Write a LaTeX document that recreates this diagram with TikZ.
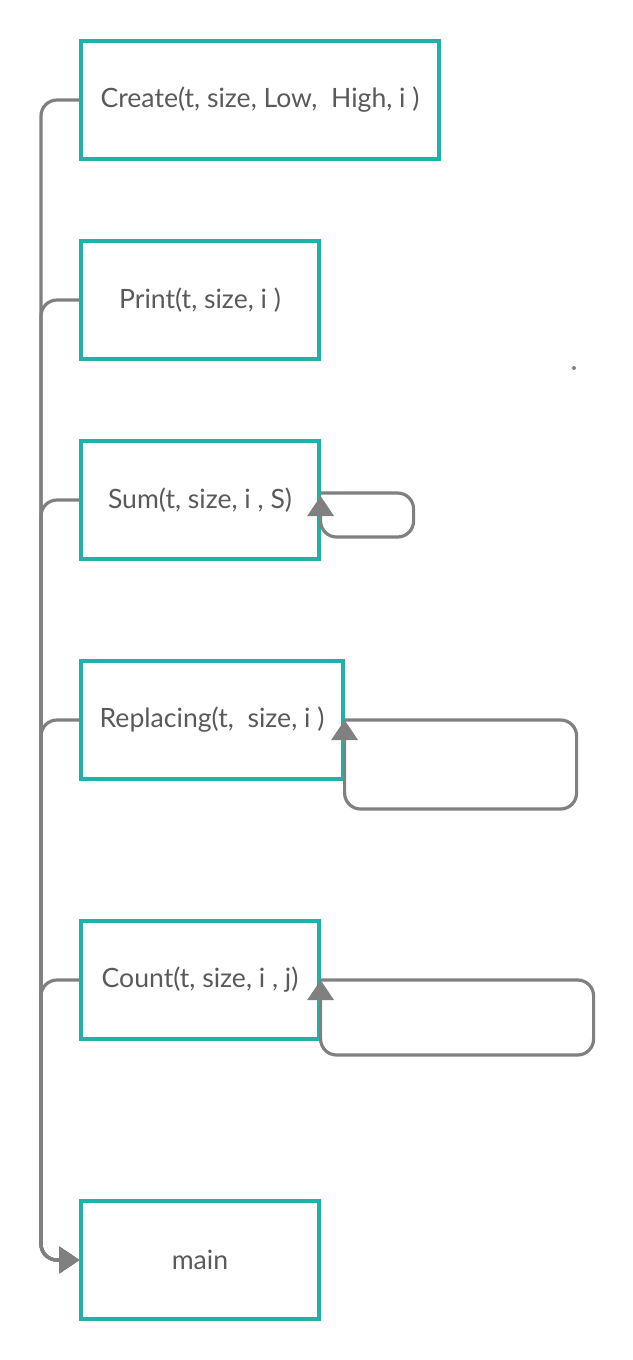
\documentclass[tikz,border=0pt]{standalone}
\usepackage{fontspec}
\setmainfont{Lato}
\usetikzlibrary{arrows.meta}
\definecolor{boxteal}{RGB}{32,178,170}
\definecolor{linkgray}{RGB}{128,128,128}
\definecolor{textgray}{RGB}{90,90,90}

\begin{document}
\begin{tikzpicture}[x=0.5pt,y=-0.5pt,
  funcbox/.style={rectangle,draw=boxteal,line width=1.6pt,minimum height=59pt,text=textgray,font=\fontsize{13.3}{16}\selectfont},
  link/.style={draw=linkgray,line width=1.6pt,rounded corners=8pt},
  callarrow/.style={-{Triangle[length=10pt,width=13pt]}}]
  \useasboundingbox (0,0) rectangle (632,1360);

  \foreach \name/\x/\y/\w/\txt in {create/260/100/179/{Create(t, size, Low,\ \ High, i )},
      print/200/300/119/{Print(t, size, i )},
      sum/200/500/119/{Sum(t, size, i , S)},
      replacing/212/720/131/{Replacing(t,\ \ size, i )},
      count/200/980/119/{Count(t, size, i , j)},
      main/200/1260/119/{main}}
    \node [funcbox,minimum width=\w pt] (\name) at (\x,\y) {\txt};

  % calls down the left side into main
  \coordinate (trunk) at (41,1260);
  \foreach \name in {create,print,sum,replacing,count}
    \draw [link,callarrow] (\name.west) -| (trunk) -- (main.west);

  % recursive calls
  \draw [link,callarrow] ([yshift=3.5pt]sum.east) -- ++(93,0) -- ++(0,44) -- ++(-93,0) -- ([yshift=2pt]sum.east);
  \draw [link,callarrow] (replacing.east) -- ++(232,0) -- ++(0,89) -- ++(-232,0) -- (replacing.east);
  \draw [link,callarrow] (count.east) -- ++(273,0) -- ++(0,75) -- ++(-273,0) -- (count.east);

  \fill [linkgray] (574,368) circle (1pt);
\end{tikzpicture}
\end{document}
